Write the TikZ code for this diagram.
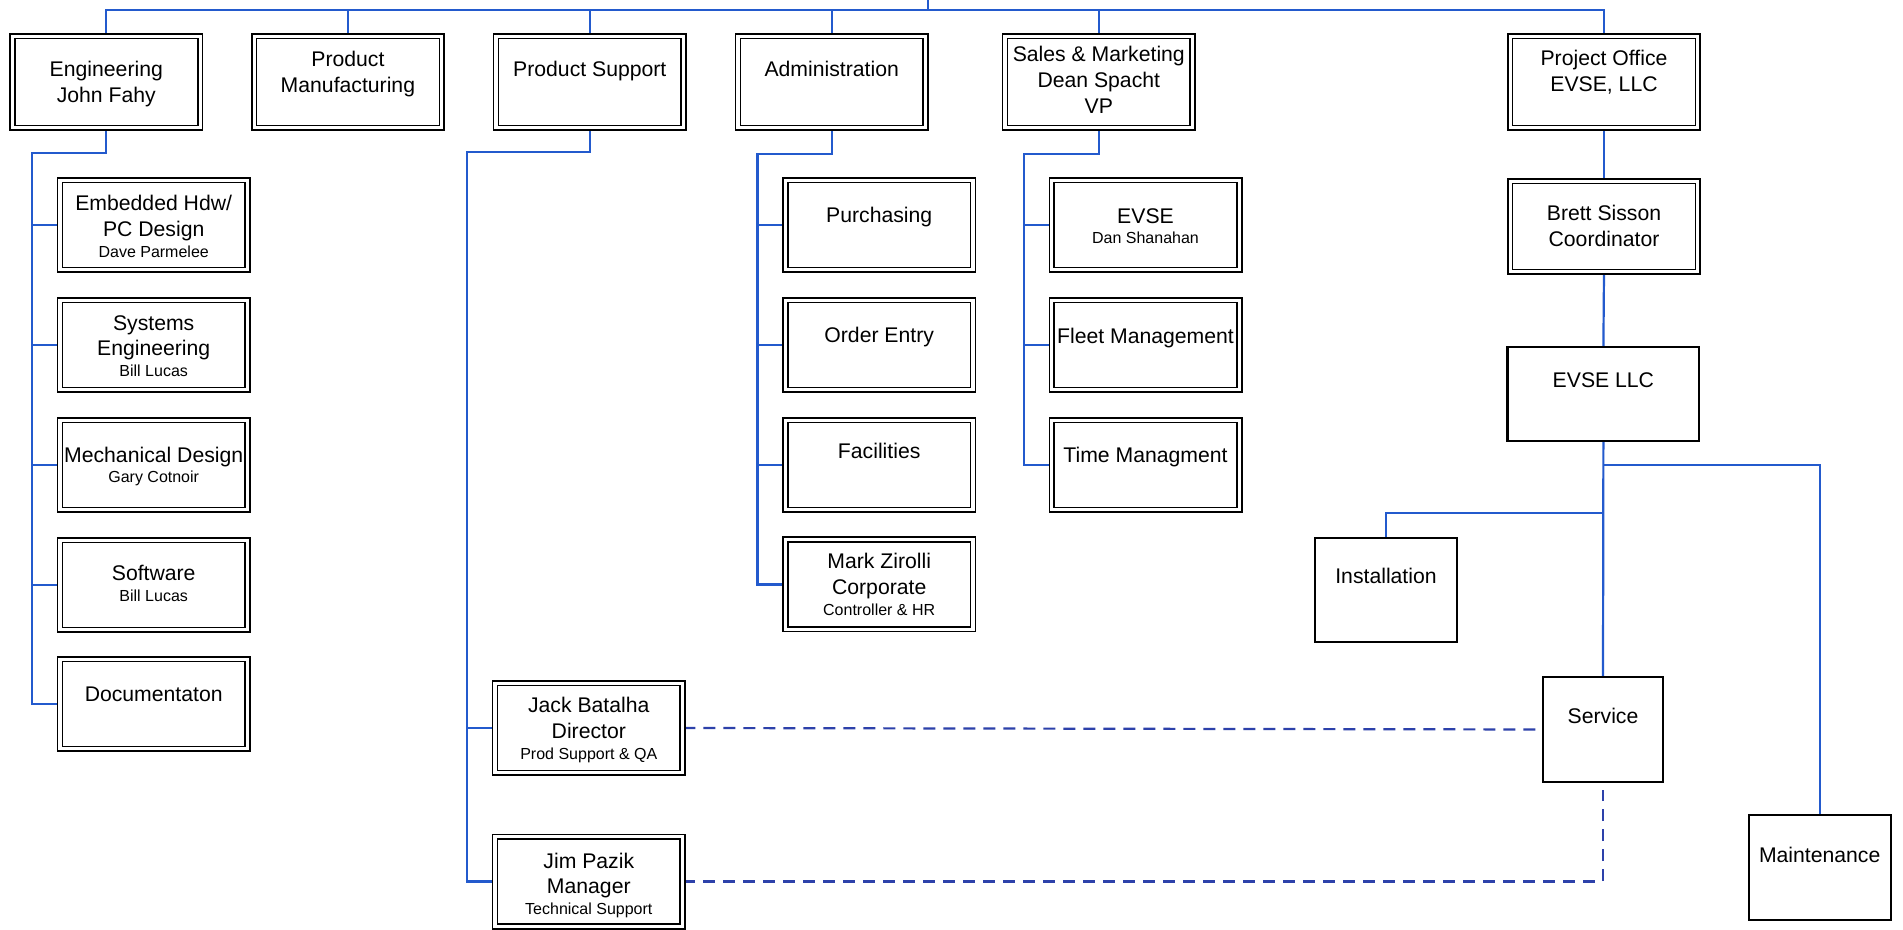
\documentclass[tikz,border=0pt]{standalone}
\usepackage{fontspec}
\setmainfont{Liberation Sans}
\usetikzlibrary{backgrounds}
\definecolor{linkblue}{RGB}{35,90,205}
\definecolor{dashblue}{RGB}{45,65,170}
\newcommand\mainsz{\fontsize{10.6}{12.85}\selectfont}
\newcommand\smallsz{\fontsize{8}{9.6}\selectfont}
\tikzset{
  dbox/.style={draw=black, line width=0.8pt, double, double distance=1.6pt,
    minimum width=93.8pt, minimum height=44.8pt, inner sep=0pt},
  topbox/.style={dbox, minimum height=45.8pt},
  sbox/.style={draw=black, line width=1.1pt, fill=white, inner sep=0pt},
  lbl/.style={anchor=north, align=center, inner sep=0pt, font=\mainsz},
  conn/.style={draw=linkblue, line width=1.1pt},
  dconn/.style={draw=dashblue, line width=1.1pt, dash pattern=on 6pt off 4pt},
}
\begin{document}
\begin{tikzpicture}[x=0.5pt, y=-0.5pt]
\useasboundingbox (0,0) rectangle (1903,930);
\begin{pgfonlayer}{background}
\fill[white] (0,0) rectangle (1903,930);
\end{pgfonlayer}

% top row
\node[topbox] (eng) at (106.3,82) {};
\node[topbox] (pm)  at (347.9,82) {};
\node[topbox] (ps)  at (589.8,82) {};
\node[topbox] (adm) at (831.7,82) {};
\node[topbox] (sm)  at (1098.8,82) {};
\node[topbox] (po)  at (1604,82) {};

% engineering children
\node[dbox] (emb)  at (153.7,225) {};
\node[dbox] (sys)  at (153.7,345) {};
\node[dbox] (mech) at (153.7,465) {};
\node[dbox] (sw)   at (153.7,585) {};
\node[dbox] (doc)  at (153.7,704) {};

% administration children
\node[dbox] (pur) at (879.2,225) {};
\node[dbox] (ord) at (879.2,345) {};
\node[dbox] (fac) at (879.2,465) {};
\node[dbox] (mz)  at (879.2,584.5) {};

% sales children
\node[dbox] (evse)  at (1145.5,225) {};
\node[dbox] (fleet) at (1145.5,345) {};
\node[dbox] (time)  at (1145.5,465) {};

% product support children
\node[dbox] (jack) at (588.8,728) {};
\node[dbox] (jim)  at (588.8,881.5) {};

% project office chain
\node[dbox, minimum height=45.3pt] (brett) at (1604,226.5) {};
\node[sbox, minimum width=95.9pt, minimum height=46.9pt] (evsellc) at (1603.4,394) {};
\node[sbox, minimum width=70.9pt, minimum height=51.9pt] (inst) at (1386,590) {};
\node[sbox, minimum width=59.9pt, minimum height=52.4pt] (svc) at (1603,729.5) {};
\node[sbox, minimum width=71pt, minimum height=52.4pt] (maint) at (1819.7,867.5) {};

% texts
\node[lbl] (t-eng) at (106.3,61) {Engineering\\John Fahy};
\node[lbl] (t-pm)  at (347.9,51) {Product\\Manufacturing};
\node[lbl] (t-ps)  at (589.8,61) {Product Support};
\node[lbl] (t-adm) at (831.7,61) {Administration};
\node[lbl] (t-sm)  at (1098.8,46) {Sales \& Marketing\\Dean Spacht\\VP};
\node[lbl] (t-po)  at (1604,50) {Project Office\\EVSE, LLC};

\node[lbl] (t-emb)  at (153.7,195) {Embedded Hdw/\\PC Design\\[-2.5pt]{\smallsz Dave Parmelee}};
\node[lbl] (t-sys)  at (153.7,315) {Systems\\Engineering\\[-2.5pt]{\smallsz Bill Lucas}};
\node[lbl] (t-mech) at (153.7,446.5) {Mechanical Design\\[-2.5pt]{\smallsz Gary Cotnoir}};
\node[lbl] (t-sw)   at (153.7,565) {Software\\[-2.5pt]{\smallsz Bill Lucas}};
\node[lbl] (t-doc)  at (153.7,686.5) {Documentaton};

\node[lbl] (t-pur) at (879.2,206.5) {Purchasing};
\node[lbl] (t-ord) at (879.2,326.5) {Order Entry};
\node[lbl] (t-fac) at (879.2,443) {Facilities};
\node[lbl] (t-mz)  at (879.2,553) {Mark Zirolli\\Corporate\\[-2.5pt]{\smallsz Controller \& HR}};

\node[lbl] (t-evse)  at (1145.5,208) {EVSE\\[-2.5pt]{\smallsz Dan Shanahan}};
\node[lbl] (t-fleet) at (1145.5,327.5) {Fleet Management};
\node[lbl] (t-time)  at (1145.5,446.5) {Time Managment};

\node[lbl] (t-jack) at (588.8,697) {Jack Batalha\\Director\\[-2.5pt]{\smallsz Prod Support \& QA}};
\node[lbl] (t-jim)  at (588.8,852.5) {Jim Pazik\\Manager\\[-2.5pt]{\smallsz Technical Support}};

\node[lbl] (t-brett) at (1604,205) {Brett Sisson\\Coordinator};
\node[lbl] (t-evsellc) at (1603.4,372) {EVSE LLC};
\node[lbl] (t-inst)  at (1386,568) {Installation};
\node[lbl] (t-svc)   at (1603,707.5) {Service};
\node[lbl] (t-maint) at (1819.7,846.5) {Maintenance};

% bus coordinates
\coordinate (root)   at (928,0);
\coordinate (topbus) at (928,10);
\coordinate (engbus) at (32.3,153);
\coordinate (psbus)  at (467.3,152);
\coordinate (admbus) at (757.5,154);
\coordinate (smbus)  at (1024,154);
\coordinate (rbr)    at (1603.4,465);
\coordinate (lbr)    at (1603.4,513);
\coordinate (svcgap) at (1603,790);

\begin{pgfonlayer}{background}
% top bus
\draw[conn] (root) -- (topbus);
\draw[conn] (eng.north) -- (eng.north |- topbus) -- (po.north |- topbus) -- (po.north);
\draw[conn] (pm.north |- topbus) -- (pm.north);
\draw[conn] (ps.north |- topbus) -- (ps.north);
\draw[conn] (adm.north |- topbus) -- (adm.north);
\draw[conn] (sm.north |- topbus) -- (sm.north);

% engineering
\draw[conn] (eng.south) |- (engbus) |- (doc.west);
\draw[conn] (engbus |- emb.west) -- (emb.west);
\draw[conn] (engbus |- sys.west) -- (sys.west);
\draw[conn] (engbus |- mech.west) -- (mech.west);
\draw[conn] (engbus |- sw.west) -- (sw.west);

% product support
\draw[conn] (ps.south) |- (psbus) |- (jim.west);
\draw[conn] (psbus |- jack.west) -- (jack.west);

% administration
\draw[conn] (adm.south) |- (admbus) |- (mz.west);
\draw[conn] (admbus |- pur.west) -- (pur.west);
\draw[conn] (admbus |- ord.west) -- (ord.west);
\draw[conn] (admbus |- fac.west) -- (fac.west);

% sales
\draw[conn] (sm.south) |- (smbus) |- (time.west);
\draw[conn] (smbus |- evse.west) -- (evse.west);
\draw[conn] (smbus |- fleet.west) -- (fleet.west);

% project office
\draw[conn] (po.south) -- (brett.north);
\draw[conn] (brett.south) -- (evsellc.north);
\draw[conn] (evsellc.south) -- (svc.north);
\draw[conn] (rbr) -| (maint.north);
\draw[conn] (lbr) -| (inst.north);

% dashed links
\draw[dconn] (jack.east) -- (svc.west);
\draw[dconn] (jim.east) -| (svcgap);
\end{pgfonlayer}
\end{tikzpicture}
\end{document}
